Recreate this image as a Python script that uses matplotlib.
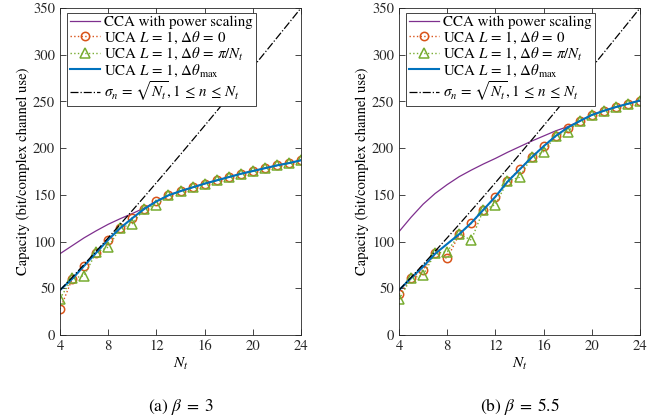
import numpy as np
import matplotlib
matplotlib.use('Agg')
import matplotlib.pyplot as plt

plt.rcParams.update({
    'font.family': ['STIXGeneral', 'Liberation Serif', 'DejaVu Serif'],
    'mathtext.fontset': 'stix',
    'font.size': 10.5,
    'xtick.direction': 'in',
    'ytick.direction': 'in',
    'xtick.top': True,
    'ytick.right': True,
})

# Data
Nt = list(range(4, 25))

# (a) beta = 3
cca_a = [87, 95.5, 104, 111.5, 118.5, 124.5, 130, 136, 143, 149.5, 154, 158, 162,
         165.5, 169, 172.5, 175.5, 178.5, 181.5, 184, 187]
dth0_a = [27.5, 59.6, 73.9, 88, 101.7, 114, 125.6, 135, 143, 149.5, 154, 158, 162,
          165.5, 169, 172.5, 175.5, 178.5, 181.5, 184, 187.4]
dthpi_a = [39, 60.5, 63.5, 88.5, 94, 114.5, 119, 135, 139.5, 149.5, 154, 158, 162,
           165.5, 169, 172.5, 175.5, 178.5, 181.5, 184, 187.4]
dthmax_a = [48, 60, 74, 88, 102, 114.5, 125, 135, 143, 149.5, 154, 158, 162,
            165.5, 169, 172.5, 175.5, 178.5, 181.5, 184, 187]

# (b) beta = 5.5
cca_b = [110.6, 126, 140, 151.5, 161, 169.5, 176.5, 183, 189, 195.5, 201.5, 207.5,
         213, 218.5, 223, 229, 235.5, 240, 244, 247.5, 251]
dth0_b = [43.5, 60.7, 69.6, 87.4, 82, 107.8, 119.6, 133.8, 148, 164.5, 177.4, 190.2,
          202.4, 213, 222, 229, 235.5, 239.8, 243.8, 247.3, 250.9]
dthpi_b = [38.2, 60.7, 64.2, 87.4, 89.2, 107.8, 101.7, 133.8, 139.6, 164.5, 168.8,
           190.2, 196.3, 213, 217.7, 229, 235.5, 239.8, 243.8, 247.3, 250.9]
dthmax_b = [48, 61, 73, 87, 97.5, 108, 120, 134, 148, 164, 177, 190, 202, 213, 222,
            229, 235.5, 240, 244, 247.5, 251]

# equal singular values reference line (same in both panels)
equal_sv = [48.0, 61.6, 75.5, 89.7, 104.0, 118.5, 133.2, 148.0, 163.0, 178.1, 193.3,
            208.6, 224.0, 239.5, 255.1, 270.7, 286.4, 302.2, 318.1, 334.0, 350.0]

panels = [
    ('(a) $\\beta\\;=\\;3$', cca_a, dth0_a, dthpi_a, dthmax_a),
    ('(b) $\\beta\\;=\\;5.5$', cca_b, dth0_b, dthpi_b, dthmax_b),
]

c_purple = '#7E2F8E'
c_orange = '#D95319'
c_green = '#77AC30'
c_blue = '#0072BD'

fig = plt.figure(figsize=(6.7, 4.18), dpi=100)
lefts = [60 / 670, 399 / 670]
for left, (caption, cca, d0, dpi_, dmax) in zip(lefts, panels):
    ax = fig.add_axes([left, 83 / 418, 241 / 670, 327 / 418])
    ax.plot(Nt, cca, color=c_purple, lw=0.9, label='CCA with power scaling')
    ax.plot(Nt, d0, color=c_orange, ls=':', lw=1.0, marker='o', ms=6,
            mfc='none', mew=1.1, label='UCA $L\\,=\\,1$, $\\Delta\\theta\\,=\\,0$')
    ax.plot(Nt, dpi_, color=c_green, ls=':', lw=1.0, marker='^', ms=6.5,
            mfc='none', mew=1.1,
            label='UCA $L\\,=\\,1$, $\\Delta\\theta\\,=\\,\\pi/N_t$')
    ax.plot(Nt, dmax, color=c_blue, lw=1.5,
            label='UCA $L\\,=\\,1$, $\\Delta\\theta_{\\max}$')
    ax.plot(Nt, equal_sv, color='black', ls='-.', lw=0.9,
            label='$\\sigma_n\\,=\\,\\sqrt{N_t}, 1\\,\\leq\\,n\\,\\leq\\,N_t$')

    ax.set_xlim(4, 24)
    ax.set_ylim(0, 350)
    ax.set_xticks([4, 8, 12, 16, 20, 24])
    ax.set_yticks(np.arange(0, 351, 50))
    ax.tick_params(labelsize=10.5, length=4, width=0.6, colors='#262626')
    for s in ax.spines.values():
        s.set_linewidth(0.6)
        s.set_color('#262626')
    ax.set_xlabel('$N_t$', fontsize=11, labelpad=2)
    ax.set_ylabel('Capacity (bit/complex channel use)', fontsize=10.5, labelpad=2)

    leg = ax.legend(loc='upper left', bbox_to_anchor=(0.022, 0.99), fontsize=10.8,
                    frameon=True, fancybox=False, edgecolor='#262626',
                    framealpha=1, borderpad=0.2, labelspacing=0.02,
                    handlelength=2.0, handletextpad=0.3, borderaxespad=0.1)
    leg.get_frame().set_linewidth(0.6)

    ax.text(0.5, -0.22, caption, transform=ax.transAxes, ha='center', va='center',
            fontsize=12.5)

plt.savefig('out.png', dpi=100, facecolor='white')
